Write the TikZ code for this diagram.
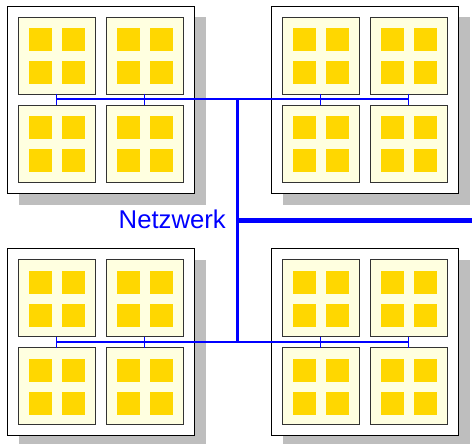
\documentclass[tikz,border=0pt]{standalone}
\usepackage{fontspec}
\setmainfont{Liberation Sans}
\usetikzlibrary{calc}
\definecolor{shadowgray}{HTML}{BEBEBE}
\definecolor{boardedge}{HTML}{333333}
\definecolor{boardfill}{HTML}{FFFFE0}
\definecolor{chipgold}{HTML}{FFD700}
\definecolor{netblue}{HTML}{0000FF}
\tikzset{
  shadowbox/.style={fill=shadowgray, draw=none, minimum size=187pt, inner sep=0pt, outer sep=0pt, anchor=north west},
  rack/.style={draw=black, fill=white, line width=0.9pt, minimum size=187pt, inner sep=0pt, outer sep=0pt, anchor=north west},
  board/.style={draw=boardedge, fill=boardfill, line width=0.9pt, minimum size=77pt, inner sep=0pt, outer sep=0pt, anchor=north west},
  chip/.style={fill=chipgold, draw=none, minimum size=23pt, inner sep=0pt, outer sep=0pt, anchor=north west},
  link/.style={draw=netblue, line width=1.3pt},
  bus/.style={draw=netblue, line width=2pt},
  trunk/.style={draw=netblue, line width=3pt},
  uplink/.style={draw=netblue, line width=5pt},
  netlabel/.style={text=netblue, inner sep=0pt, font=\fontsize{25.7}{30}\selectfont},
}
% one rack: shadow, frame, four boards with four chips each, board links
\newcommand\drawrack[3]{%
  \node[shadowbox] (#1-shadow) at (#2+11.5,#3+11.5) {};
  \node[rack] (#1) at (#2,#3) {};
  \foreach \bx/\by/\bn in {11/11/a,99/11/b,11/99/c,99/99/d} {
    \node[board] (#1-\bn) at (#2+\bx,#3+\by) {};
    \foreach \cx/\cy/\cn in {11/11/1,44/11/2,11/44/3,44/44/4}
      \node[chip] (#1-\bn\cn) at (#2+\bx+\cx,#3+\by+\cy) {};
  }
  \draw[link] (#1-a.south) -- (#1-c.north);
  \draw[link] (#1-b.south) -- (#1-d.north);
}
\begin{document}
\begin{tikzpicture}[x=1pt,y=-1pt]
  \useasboundingbox (0,0) rectangle (472,444);
  \drawrack{tl}{7}{6}
  \drawrack{tr}{271}{6}
  \drawrack{bl}{7}{248.5}
  \drawrack{br}{271}{248.5}
  % rack buses
  \draw[bus] ($(tl-a.south)!.5!(tl-c.north)$) -- ($(tr-b.south)!.5!(tr-d.north)$);
  \draw[bus] ($(bl-a.south)!.5!(bl-c.north)$) -- ($(br-b.south)!.5!(br-d.north)$);
  % backbone and uplink
  \coordinate (hubtop) at (237.5,99.5);
  \coordinate (hubbot) at (237.5,342);
  \coordinate (hub) at (237.5,220);
  \coordinate (wan) at (472,220);
  \draw[trunk] (hubtop) -- (hubbot);
  \draw[uplink] (hub) -- (wan);
  \node[netlabel, anchor=base east] (net) at (226,228) {Netzwerk};
\end{tikzpicture}
\end{document}
